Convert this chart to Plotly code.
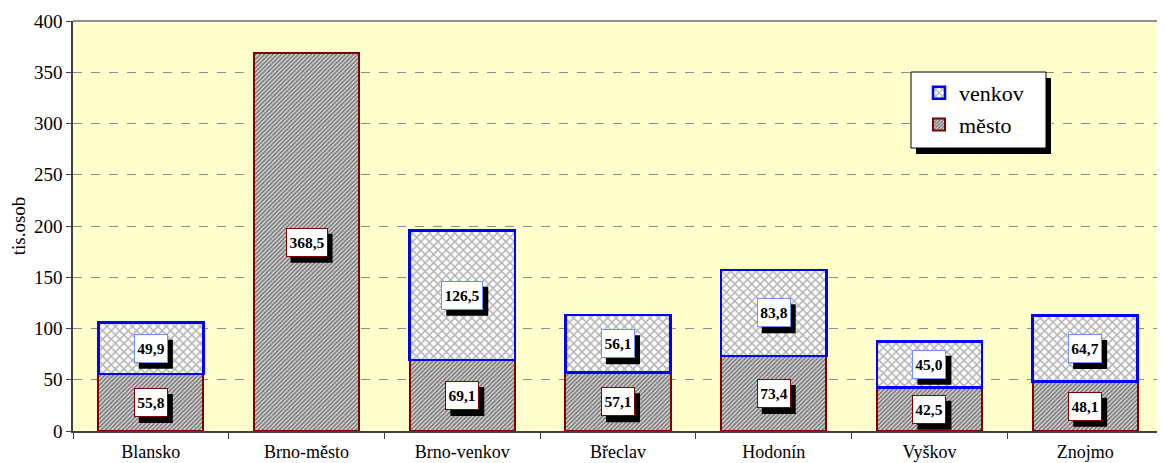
import plotly.graph_objects as go

categories = ["Blansko", "Brno-město", "Brno-venkov", "Břeclav", "Hodonín", "Vyškov", "Znojmo"]
mesto = [55.8, 368.5, 69.1, 57.1, 73.4, 42.5, 48.1]
venkov = [49.9, None, 126.5, 56.1, 83.8, 45.0, 64.7]
y_ticks = [0, 50, 100, 150, 200, 250, 300, 350, 400]

FONT = "'Times New Roman', 'Liberation Serif', 'DejaVu Serif', serif"
LBL_FS = 15.5

fig = go.Figure()
fig.add_trace(go.Bar(
    x=categories, y=mesto, name="město", legendgroup="m",
    marker=dict(color="#ffffff", line=dict(color="#800000", width=2),
                pattern=dict(shape="/", fgcolor="#000000", bgcolor="#ffffff", size=3, solidity=0.7)),
))
fig.add_trace(go.Bar(
    x=categories, y=venkov, name="venkov", legendgroup="v",
    marker=dict(color="#ffffff", line=dict(color="#0000ff", width=2.5),
                pattern=dict(shape="x", fgcolor="#6a6a6a", bgcolor="#ffffff", size=6, solidity=0.45)),
))

def fmt(v):
    return f"{v:.1f}".replace(".", ",")

PAD = 2
TXT_H = 23
annotations = []
shadow_shapes = []
for c, m, v in zip(categories, mesto, venkov):
    segs = [(m / 2, m, "#800000")]
    if v is not None:
        segs.append((m + v / 2, v, "#6f8fff"))
    for yc, val, bc in segs:
        s = fmt(val)
        digits = sum(ch.isdigit() for ch in s)
        tw = round(digits * 0.5 * LBL_FS + 0.25 * LBL_FS) + 1
        bw = tw + 2 * PAD + 2
        bh = TXT_H + 2 * PAD + 2
        shadow_shapes.append(dict(type="rect", xref="x", yref="y", layer="above",
                                  xsizemode="pixel", ysizemode="pixel", xanchor=c, yanchor=yc,
                                  x0=-bw / 2 + 5, x1=bw / 2 + 5, y0=-bh / 2 - 6, y1=bh / 2 - 6,
                                  fillcolor="black", line=dict(width=0)))
        annotations.append(dict(x=c, y=yc, text=f"<b>{s}</b>", showarrow=False, xref="x", yref="y",
                                font=dict(family=FONT, size=LBL_FS, color="black"),
                                bgcolor="white", bordercolor=bc, borderwidth=1, borderpad=PAD,
                                width=tw, height=TXT_H))

# figure is placed 8px from the page's top-left corner (body margin)
W, H = 1157, 455
L, R, T, B = 65, 2, 13, 32
PW = W - L - R
PH = H - T - B

def px(xa):
    return (xa - 8 - L) / PW

def py(ya):
    return 1 - (ya - 8 - T) / PH

fig.update_layout(
    width=W, height=H,
    margin=dict(l=L, r=R, t=T, b=B),
    barmode="stack", bargap=0.325,
    paper_bgcolor="white", plot_bgcolor="#ffffcc",
    font=dict(family=FONT, size=18, color="black"),
    showlegend=True,
    legend=dict(x=px(919), y=py(72), xanchor="left", yanchor="top",
                traceorder="reversed",
                bgcolor="rgba(0,0,0,0)", borderwidth=0,
                font=dict(family=FONT, size=22, color="black"), itemwidth=30,
                tracegroupgap=17),
    annotations=annotations,
    shapes=[
        dict(type="line", xref="paper", yref="paper", x0=0, x1=1, y0=1, y1=1,
             line=dict(color="#909090", width=2)),
        dict(type="rect", xref="paper", yref="paper", layer="above",
             x0=px(916), x1=px(1051), y0=py(154), y1=py(78),
             fillcolor="black", line=dict(width=0)),
        dict(type="rect", xref="paper", yref="paper", layer="above",
             x0=px(911), x1=px(1046), y0=py(148), y1=py(72),
             fillcolor="white", line=dict(color="black", width=1)),
    ] + shadow_shapes,
)
fig.update_xaxes(type="category", showline=True, linecolor="#404040", linewidth=1.5,
                 ticks="outside", tickson="boundaries", ticklen=6, tickcolor="#404040",
                 tickfont=dict(family=FONT, size=18), showgrid=False, ticklabelstandoff=4)
fig.update_yaxes(range=[0, 400], tickvals=y_ticks, showline=True, linecolor="#404040", linewidth=1.5,
                 ticks="outside", ticklen=5, tickcolor="#404040",
                 showgrid=True, gridcolor="#8c8c8c", griddash="dash", gridwidth=1,
                 tickfont=dict(family=FONT, size=19),
                 title=dict(text="tis.osob", font=dict(family=FONT, size=19), standoff=12),
                 zeroline=False)

fig.write_html("out.html")
